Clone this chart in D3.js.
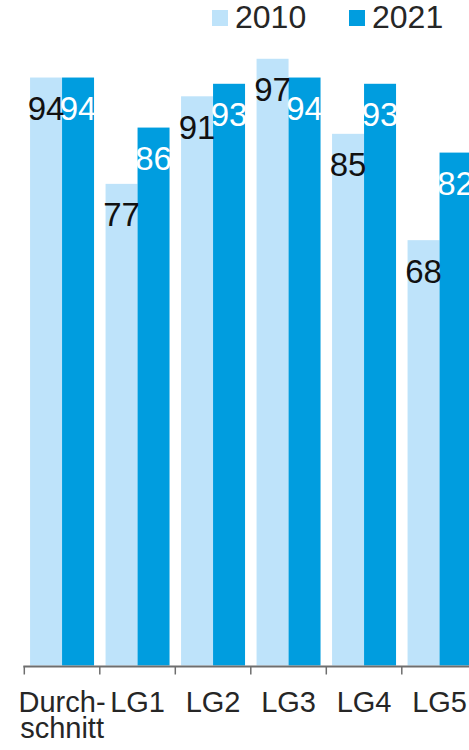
<!DOCTYPE html>
<html>
<head>
<meta charset="utf-8">
<script src="https://cdn.jsdelivr.net/npm/d3@7"></script>
<style>
    body { margin: 0; background: #fff; }
    svg { display: block; font-family: "Liberation Sans", Arial, sans-serif; }
</style>
</head>
<body>
<svg id="chart" width="469" height="750"></svg>
<script>
// categories and series
const categories = ["Durch-\nschnitt", "LG1", "LG2", "LG3", "LG4", "LG5"];
const series = ["2010", "2021"];
const values2010 = [94, 77, 91, 97, 85, 68];
const values2021 = [94, 86, 93, 94, 93, 82];

const colors = { "2010": "#bee3fa", "2021": "#009ddf" };
const labelColors = { "2010": "#111111", "2021": "#ffffff" };
const textColor = "#262626";

const data = categories.map((c, i) => ({
    cat: c,
    vals: [
        { key: "2010", value: values2010[i] },
        { key: "2021", value: values2021[i] }
    ]
}));

const svg = d3.select("#chart");

const x = d3.scaleBand()
    .domain(categories)
    .range([24.3, 24.3 + 6 * 75.5])
    .paddingInner(0)
    .paddingOuter(0);

const xInner = d3.scaleBand()
    .domain(series)
    .range([0, x.bandwidth()])
    .paddingInner(0)
    .paddingOuter(0.18);

const y = d3.scaleLinear()
    .domain([0, 100])
    .range([665.5, 40]);

// bars
const groups = svg.append("g")
    .selectAll("g")
    .data(data)
    .enter().append("g")
    .attr("transform", d => "translate(" + x(d.cat) + ",0)");

groups.selectAll("rect")
    .data(d => d.vals)
    .enter().append("rect")
    .attr("x", d => xInner(d.key))
    .attr("y", d => y(d.value))
    .attr("width", xInner.bandwidth())
    .attr("height", d => y(0) - y(d.value))
    .attr("fill", d => colors[d.key]);

groups.selectAll("text")
    .data(d => d.vals)
    .enter().append("text")
    .attr("x", d => xInner(d.key) + xInner.bandwidth() / 2)
    .attr("y", d => y(d.value) + 42.5)
    .attr("text-anchor", "middle")
    .attr("font-size", 33)
    .attr("fill", d => labelColors[d.key])
    .text(d => d.value);

// x axis
const axis = svg.append("g")
    .attr("transform", "translate(0," + 666.5 + ")");

axis.append("line")
    .attr("x1", x.range()[0] - 1)
    .attr("x2", x.range()[1])
    .attr("stroke", "#6e6e6e")
    .attr("stroke-width", 2);

axis.selectAll("line.tick")
    .data(categories)
    .enter().append("line")
    .attr("class", "tick")
    .attr("x1", d => x(d))
    .attr("x2", d => x(d))
    .attr("y1", 0)
    .attr("y2", 8)
    .attr("stroke", "#6e6e6e")
    .attr("stroke-width", 1.5);

const xLabels = axis.selectAll("text")
    .data(categories)
    .enter().append("text")
    .attr("x", d => x(d) + x.bandwidth() / 2)
    .attr("y", 45.5)
    .attr("text-anchor", "middle")
    .attr("font-size", 29)
    .attr("fill", textColor);

xLabels.each(function (d) {
    const lines = d.split("\n");
    lines.forEach((ln, i) => {
        d3.select(this).append("tspan")
            .attr("x", x(d) + x.bandwidth() / 2)
            .attr("dy", i === 0 ? 0 : 26)
            .text(ln);
    });
});

// legend
const legend = svg.append("g")
    .selectAll("g")
    .data(series)
    .enter().append("g")
    .attr("transform", (d, i) => "translate(" + (212 + i * 137) + ",10)");

legend.append("rect")
    .attr("width", 16)
    .attr("height", 16)
    .attr("fill", d => colors[d]);

legend.append("text")
    .attr("x", 23)
    .attr("y", 18)
    .attr("font-size", 32)
    .attr("fill", textColor)
    .text(d => d);
</script>
</body>
</html>
